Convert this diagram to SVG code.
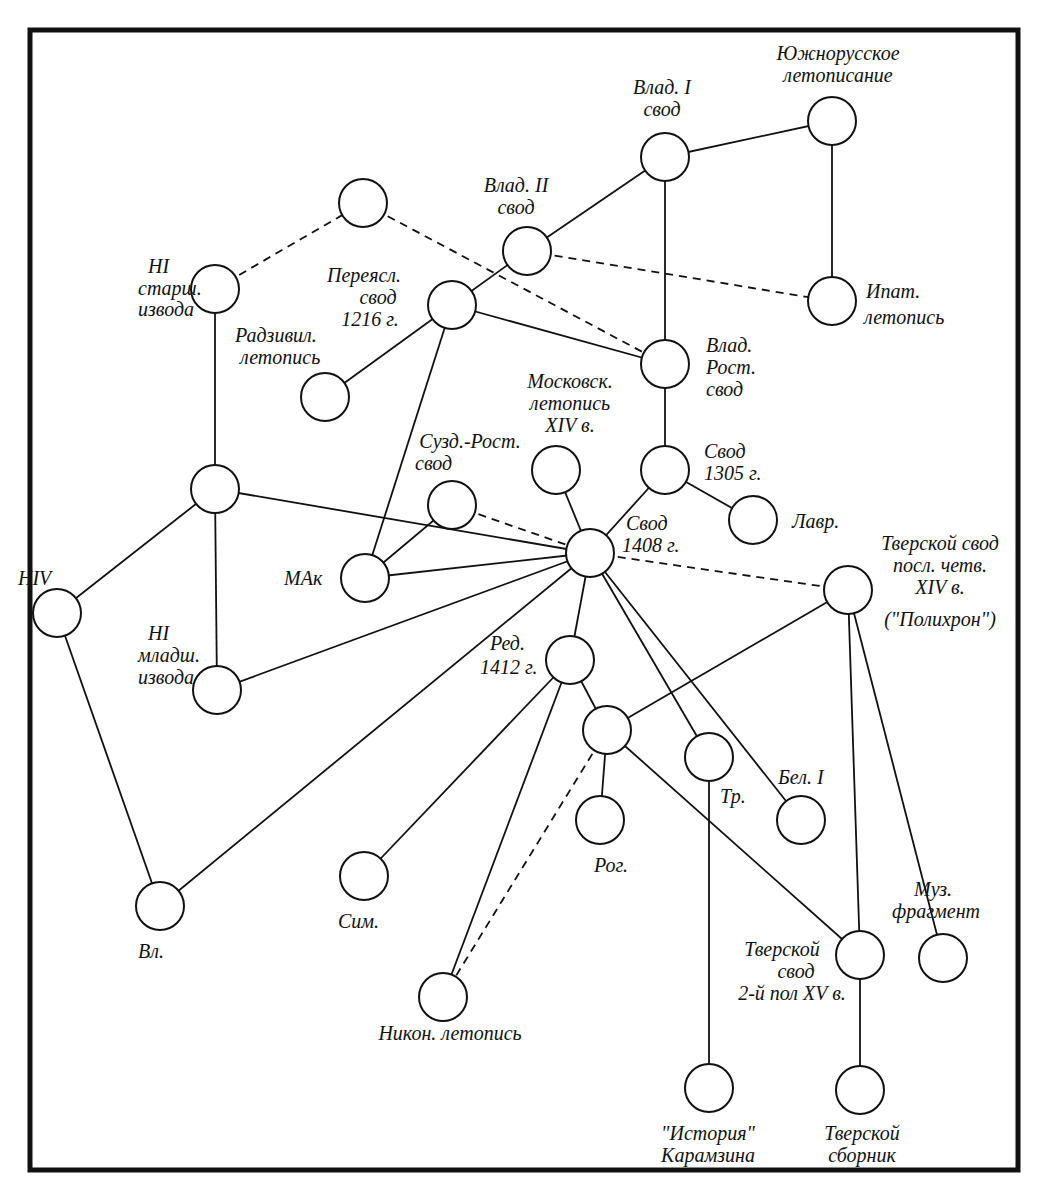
<svg xmlns="http://www.w3.org/2000/svg" width="1048" height="1200" viewBox="0 0 1048 1200">
<style>
circle{fill:#fff;stroke:#111;stroke-width:2}
.e line{stroke:#111;stroke-width:1.8}
.d line{stroke-dasharray:8 6}
text{font-family:"Liberation Serif",serif;font-style:italic;font-size:20px;fill:#111}
.m{text-anchor:middle}.r{text-anchor:end}
</style>
<rect width="1048" height="1200" fill="#fff"/>
<rect x="30" y="30" width="988" height="1140" fill="none" stroke="#111" stroke-width="5"/>
<g class="e">
<line x1="832" y1="121" x2="665" y2="157"/><line x1="832" y1="121" x2="832" y2="301"/>
<line x1="665" y1="157" x2="527" y2="251"/><line x1="665" y1="157" x2="665" y2="364"/>
<line x1="527" y1="251" x2="452" y2="305"/>
<line x1="452" y1="305" x2="665" y2="364"/><line x1="452" y1="305" x2="325" y2="397"/><line x1="452" y1="305" x2="365" y2="578"/>
<line x1="665" y1="364" x2="665" y2="470"/>
<line x1="665" y1="470" x2="590" y2="553"/><line x1="665" y1="470" x2="753" y2="520"/>
<line x1="215" y1="289" x2="215" y2="489"/>
<line x1="215" y1="489" x2="57" y2="613"/><line x1="215" y1="489" x2="217" y2="690"/><line x1="215" y1="489" x2="590" y2="553"/>
<line x1="452" y1="505" x2="365" y2="578"/>
<line x1="556" y1="470" x2="590" y2="553"/>
<line x1="365" y1="578" x2="590" y2="553"/>
<line x1="217" y1="690" x2="590" y2="553"/>
<line x1="57" y1="613" x2="160" y2="906"/>
<line x1="160" y1="906" x2="590" y2="553"/>
<line x1="590" y1="553" x2="570" y2="660"/><line x1="590" y1="553" x2="709" y2="757"/><line x1="590" y1="553" x2="801" y2="820"/>
<line x1="570" y1="660" x2="607" y2="730"/><line x1="570" y1="660" x2="364" y2="876"/><line x1="570" y1="660" x2="443" y2="997"/>
<line x1="607" y1="730" x2="848" y2="590"/><line x1="607" y1="730" x2="600" y2="820"/><line x1="607" y1="730" x2="860" y2="955"/>
<line x1="709" y1="757" x2="709" y2="1088"/>
<line x1="848" y1="590" x2="860" y2="955"/><line x1="848" y1="590" x2="943" y2="958"/>
<line x1="860" y1="955" x2="860" y2="1090"/>
</g>
<g class="e d">
<line x1="215" y1="289" x2="363" y2="203"/><line x1="363" y1="203" x2="665" y2="364"/>
<line x1="527" y1="251" x2="832" y2="301"/><line x1="452" y1="505" x2="590" y2="553"/>
<line x1="590" y1="553" x2="848" y2="590"/><line x1="607" y1="730" x2="443" y2="997"/>
</g>
<g id="south"><circle cx="832" cy="121" r="24"/><text class="m" x="838" y="60">Южнорусское</text><text class="m" x="838" y="82">летописание</text></g>
<g id="vlad1"><circle cx="665" cy="157" r="24"/><text class="m" x="662" y="94">Влад. I</text><text class="m" x="662" y="116">свод</text></g>
<g id="vlad2"><circle cx="527" cy="251" r="24"/><text class="m" x="516" y="192">Влад. II</text><text class="m" x="516" y="214">свод</text></g>
<g id="top"><circle cx="363" cy="203" r="24"/></g>
<g id="hist"><circle cx="215" cy="289" r="24"/><text x="148" y="273">HI</text><text x="138" y="295">старш.</text><text x="138" y="316">извода</text></g>
<g id="pereyasl"><circle cx="452" cy="305" r="24"/><text class="m" x="364" y="282">Переясл.</text><text class="m" x="378" y="304">свод</text><text class="m" x="370" y="326">1216 г.</text></g>
<g id="ipat"><circle cx="832" cy="301" r="24"/><text x="866" y="298">Ипат.</text><text x="864" y="324">летопись</text></g>
<g id="radziv"><circle cx="325" cy="397" r="24"/><text x="235" y="342">Радзивил.</text><text x="240" y="364">летопись</text></g>
<g id="vladrost"><circle cx="665" cy="364" r="24"/><text x="706" y="352">Влад.</text><text x="706" y="374">Рост.</text><text x="706" y="396">свод</text></g>
<g id="moscow"><circle cx="556" cy="470" r="24"/><text class="m" x="570" y="388">Московск.</text><text class="m" x="570" y="410">летопись</text><text class="m" x="570" y="432">XIV в.</text></g>
<g id="s1305"><circle cx="665" cy="470" r="24"/><text x="704" y="458">Свод</text><text x="704" y="480">1305 г.</text></g>
<g id="suzd"><circle cx="452" cy="505" r="24"/><text class="m" x="470" y="448">Сузд.-Рост.</text><text x="415" y="470">свод</text></g>
<g id="himid"><circle cx="215" cy="489" r="24"/></g>
<g id="lavr"><circle cx="753" cy="520" r="24"/><text x="792" y="528">Лавр.</text></g>
<g id="s1408"><circle cx="590" cy="553" r="24"/><text x="626" y="530">Свод</text><text x="622" y="552">1408 г.</text></g>
<g id="mak"><circle cx="365" cy="578" r="24"/><text x="284" y="585">МАк</text></g>
<g id="tver1"><circle cx="848" cy="590" r="24"/><text class="m" x="940" y="550">Тверской свод</text><text class="m" x="940" y="572">посл. четв.</text><text class="m" x="940" y="594">XIV в.</text><text class="m" x="940" y="626">("Полихрон")</text></g>
<g id="hiv"><circle cx="57" cy="613" r="24"/><text x="18" y="585">HIV</text></g>
<g id="red"><circle cx="570" cy="660" r="24"/><text x="490" y="650">Ред.</text><text x="480" y="674">1412 г.</text></g>
<g id="himl"><circle cx="217" cy="690" r="24"/><text x="148" y="640">HI</text><text x="138" y="662">младш.</text><text x="138" y="684">извода</text></g>
<g id="x"><circle cx="607" cy="730" r="24"/></g>
<g id="tr"><circle cx="709" cy="757" r="24"/><text x="720" y="803">Тр.</text></g>
<g id="bel"><circle cx="801" cy="820" r="24"/><text x="778" y="784">Бел. I</text></g>
<g id="rog"><circle cx="600" cy="820" r="24"/><text x="594" y="872">Рог.</text></g>
<g id="sim"><circle cx="364" cy="876" r="24"/><text x="338" y="928">Сим.</text></g>
<g id="vl"><circle cx="160" cy="906" r="24"/><text x="138" y="958">Вл.</text></g>
<g id="muz"><circle cx="943" cy="958" r="24"/><text x="914" y="896">Муз.</text><text x="892" y="918">фрагмент</text></g>
<g id="tver2"><circle cx="860" cy="955" r="24"/><text class="m" x="782" y="956">Тверской</text><text class="m" x="796" y="978">свод</text><text class="m" x="792" y="1000">2-й пол XV в.</text></g>
<g id="nikon"><circle cx="443" cy="997" r="24"/><text class="m" x="450" y="1040">Никон. летопись</text></g>
<g id="istoria"><circle cx="709" cy="1088" r="24"/><text class="m" x="708" y="1140">"История"</text><text class="m" x="708" y="1162">Карамзина</text></g>
<g id="tversb"><circle cx="860" cy="1090" r="24"/><text class="m" x="862" y="1140">Тверской</text><text class="m" x="862" y="1162">сборник</text></g>
</svg>
